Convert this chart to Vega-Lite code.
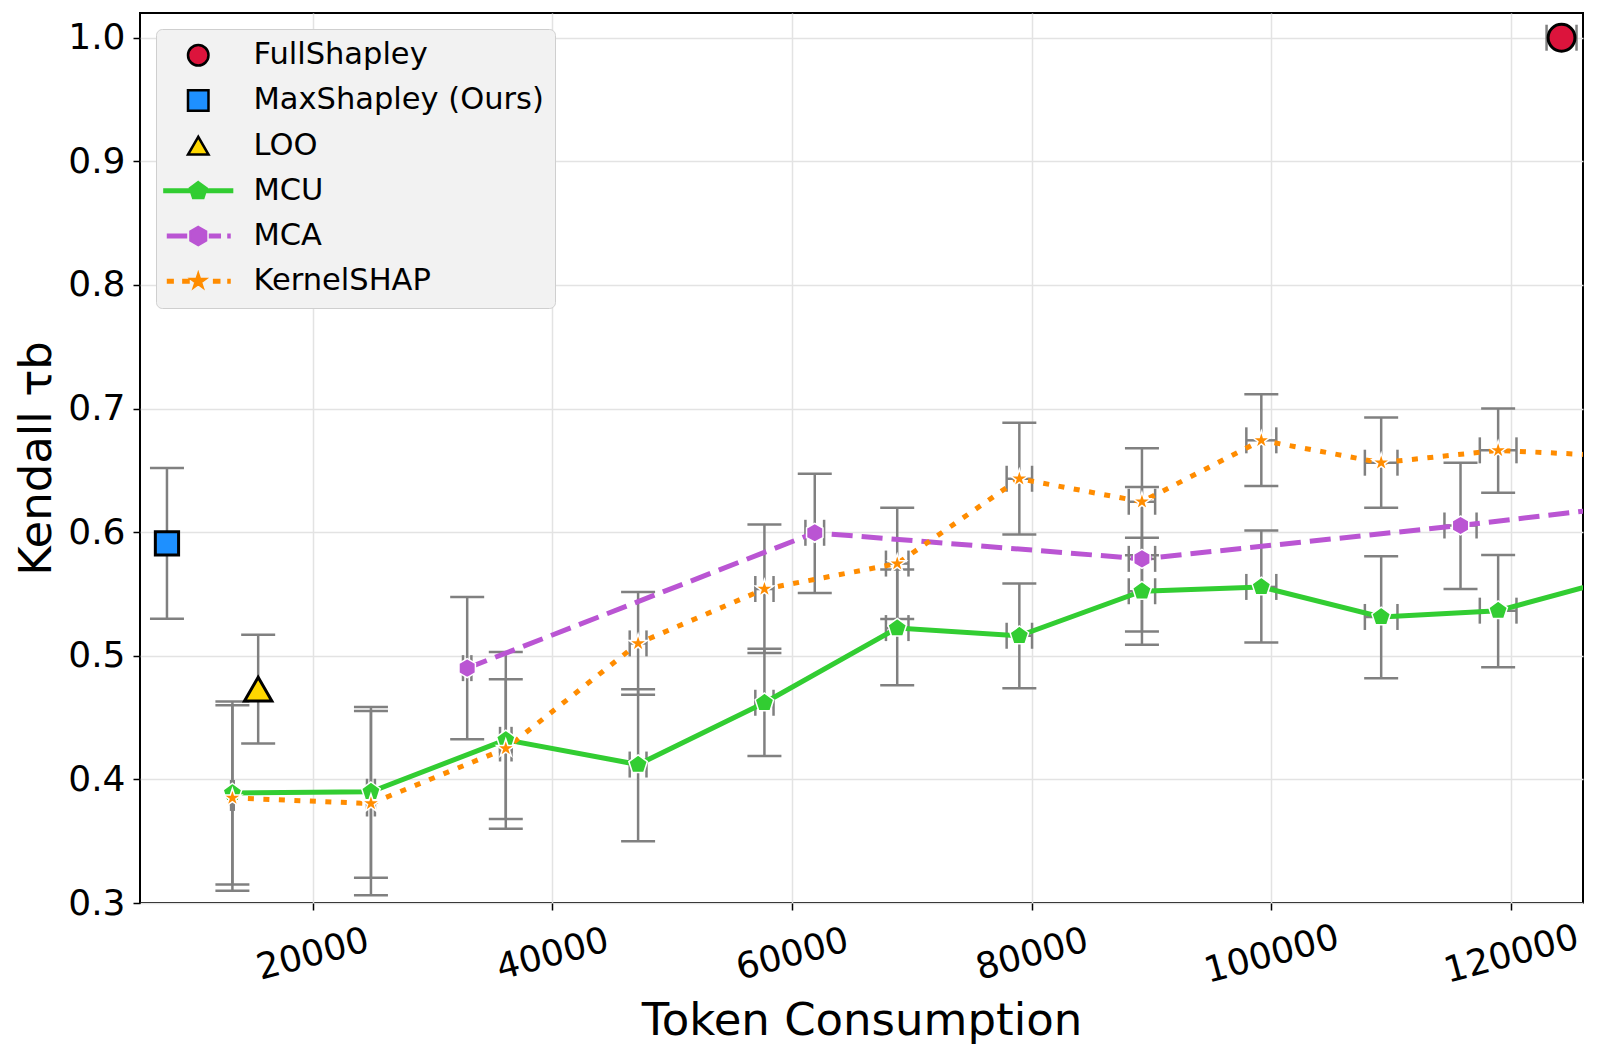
{
  "$schema": "https://vega.github.io/schema/vega-lite/v6.json",
  "width": 1443,
  "height": 890,
  "autosize": {"type": "none"},
  "padding": {"left": 140, "top": 13, "right": 17, "bottom": 154},
  "background": "white",
  "config": {
    "font": "DejaVu Sans",
    "view": {"stroke": "black", "strokeWidth": 2},
    "axis": {"labelColor": "black", "titleColor": "black", "titleFontWeight": "normal", "labelFont": "DejaVu Sans", "titleFont": "DejaVu Sans",
      "tickSize": 7, "tickWidth": 1.5, "tickColor": "black", "domain": false, "grid": true, "gridColor": "#e3e3e3", "gridWidth": 1.5,
      "labelFontSize": 36, "titleFontSize": 45},
    "axisX": {"labelAngle": -15, "labelAlign": "center", "labelBaseline": "middle", "labelPadding": 44, "labelFlush": false, "labelOverlap": false, "titlePadding": 9},
    "axisY": {"labelPadding": 8, "titlePadding": 8}
  },
  "data": {
    "values": [
      {"m": "FullShapley", "x": 124210, "y": 1.0, "ylo": null, "yhi": null, "xlo": 122960, "xhi": 125460},
      {"m": "MaxShapley (Ours)", "x": 7850, "y": 0.591, "ylo": 0.530, "yhi": 0.652, "xlo": null, "xhi": null},
      {"m": "LOO", "x": 15460, "y": 0.473, "ylo": 0.429, "yhi": 0.517, "xlo": null, "xhi": null},
      {"m": "MCU", "x": 13310, "y": 0.389, "ylo": 0.315, "yhi": 0.463, "xlo": 13200, "xhi": 13420},
      {"m": "MCU", "x": 24870, "y": 0.390, "ylo": 0.3205, "yhi": 0.4586, "xlo": 24540, "xhi": 25200},
      {"m": "MCU", "x": 36120, "y": 0.432, "ylo": 0.360, "yhi": 0.503, "xlo": 35640, "xhi": 36600},
      {"m": "MCU", "x": 47160, "y": 0.412, "ylo": 0.350, "yhi": 0.473, "xlo": 46460, "xhi": 47860},
      {"m": "MCU", "x": 57700, "y": 0.462, "ylo": 0.419, "yhi": 0.5057, "xlo": 56940, "xhi": 58460},
      {"m": "MCU", "x": 68780, "y": 0.5224, "ylo": 0.4762, "yhi": 0.5697, "xlo": 67840, "xhi": 69720},
      {"m": "MCU", "x": 78970, "y": 0.5162, "ylo": 0.4738, "yhi": 0.5584, "xlo": 77910, "xhi": 80030},
      {"m": "MCU", "x": 89200, "y": 0.5522, "ylo": 0.5089, "yhi": 0.5954, "xlo": 88100, "xhi": 90300},
      {"m": "MCU", "x": 99160, "y": 0.5557, "ylo": 0.5108, "yhi": 0.6014, "xlo": 97910, "xhi": 100410},
      {"m": "MCU", "x": 109160, "y": 0.5314, "ylo": 0.4819, "yhi": 0.5805, "xlo": 107800, "xhi": 110520},
      {"m": "MCU", "x": 118920, "y": 0.5365, "ylo": 0.4908, "yhi": 0.5816, "xlo": 117390, "xhi": 120450},
      {"m": "MCU", "x": 129000, "y": 0.563, "ylo": null, "yhi": null, "xlo": null, "xhi": null},
      {"m": "KernelSHAP", "x": 13310, "y": 0.385, "ylo": 0.310, "yhi": 0.460, "xlo": 13200, "xhi": 13420},
      {"m": "KernelSHAP", "x": 24870, "y": 0.3805, "ylo": 0.3062, "yhi": 0.4554, "xlo": 24540, "xhi": 25200},
      {"m": "KernelSHAP", "x": 36120, "y": 0.425, "ylo": 0.368, "yhi": 0.481, "xlo": 35640, "xhi": 36600},
      {"m": "KernelSHAP", "x": 47160, "y": 0.510, "ylo": 0.4684, "yhi": 0.5516, "xlo": 46460, "xhi": 47860},
      {"m": "KernelSHAP", "x": 57700, "y": 0.554, "ylo": 0.5022, "yhi": 0.6062, "xlo": 56940, "xhi": 58460},
      {"m": "KernelSHAP", "x": 68780, "y": 0.5746, "ylo": 0.5297, "yhi": 0.6197, "xlo": 67840, "xhi": 69720},
      {"m": "KernelSHAP", "x": 78970, "y": 0.6432, "ylo": 0.5981, "yhi": 0.6886, "xlo": 77910, "xhi": 80030},
      {"m": "KernelSHAP", "x": 89200, "y": 0.6246, "ylo": 0.5814, "yhi": 0.6678, "xlo": 88100, "xhi": 90300},
      {"m": "KernelSHAP", "x": 99160, "y": 0.6743, "ylo": 0.6373, "yhi": 0.7116, "xlo": 97910, "xhi": 100410},
      {"m": "KernelSHAP", "x": 109160, "y": 0.6562, "ylo": 0.6197, "yhi": 0.6927, "xlo": 107800, "xhi": 110520},
      {"m": "KernelSHAP", "x": 118920, "y": 0.6662, "ylo": 0.6319, "yhi": 0.7000, "xlo": 117390, "xhi": 120450},
      {"m": "KernelSHAP", "x": 129000, "y": 0.6615, "ylo": null, "yhi": null, "xlo": null, "xhi": null},
      {"m": "MCA", "x": 32900, "y": 0.490, "ylo": 0.4324, "yhi": 0.5476, "xlo": 32550, "xhi": 33250},
      {"m": "MCA", "x": 61900, "y": 0.5995, "ylo": 0.5508, "yhi": 0.6473, "xlo": 61120, "xhi": 62680},
      {"m": "MCA", "x": 89200, "y": 0.5784, "ylo": 0.5197, "yhi": 0.6365, "xlo": 88100, "xhi": 90300},
      {"m": "MCA", "x": 115780, "y": 0.6054, "ylo": 0.5541, "yhi": 0.6562, "xlo": 114440, "xhi": 117120},
      {"m": "MCA", "x": 130000, "y": 0.6215, "ylo": null, "yhi": null, "xlo": null, "xhi": null}
    ]
  },
  "layer": [
    {
      "mark": {"type": "rule", "color": "#808080", "strokeWidth": 2.5, "clip": true},
      "encoding": {
        "x": {"field": "x", "type": "quantitative", "title": "Token Consumption", "scale": {"domain": [5600, 126000], "nice": false, "zero": false},
          "axis": {"values": [20000, 40000, 60000, 80000, 100000, 120000], "format": "d"}},
        "y": {"field": "ylo", "type": "quantitative", "title": "Kendall  τb", "scale": {"domain": [0.3, 1.02], "nice": false, "zero": false},
          "axis": {"values": [0.3, 0.4, 0.5, 0.6, 0.7, 0.8, 0.9, 1.0], "format": ".1f"}},
        "y2": {"field": "yhi", "title": "Kendall  τb"}
      }
    },
    {
      "mark": {"type": "tick", "orient": "horizontal", "color": "#808080", "size": 34, "thickness": 2.5, "clip": true, "opacity": 1},
      "encoding": {
        "x": {"field": "x", "type": "quantitative", "title": "Token Consumption", "scale": {"domain": [5600, 126000], "nice": false, "zero": false}},
        "y": {"field": "ylo", "type": "quantitative", "title": "Kendall  τb", "scale": {"domain": [0.3, 1.02], "nice": false, "zero": false}}
      }
    },
    {
      "mark": {"type": "tick", "orient": "horizontal", "color": "#808080", "size": 34, "thickness": 2.5, "clip": true, "opacity": 1},
      "encoding": {
        "x": {"field": "x", "type": "quantitative", "title": "Token Consumption", "scale": {"domain": [5600, 126000], "nice": false, "zero": false}},
        "y": {"field": "yhi", "type": "quantitative", "title": "Kendall  τb", "scale": {"domain": [0.3, 1.02], "nice": false, "zero": false}}
      }
    },
    {
      "mark": {"type": "rule", "color": "#808080", "strokeWidth": 2.5, "clip": true},
      "encoding": {
        "x": {"field": "xlo", "type": "quantitative", "title": "Token Consumption", "scale": {"domain": [5600, 126000], "nice": false, "zero": false}},
        "x2": {"field": "xhi", "title": "Token Consumption"},
        "y": {"field": "y", "type": "quantitative", "title": "Kendall  τb", "scale": {"domain": [0.3, 1.02], "nice": false, "zero": false}}
      }
    },
    {
      "mark": {"type": "tick", "orient": "vertical", "color": "#808080", "size": 26, "thickness": 2.5, "clip": true, "opacity": 1},
      "encoding": {
        "x": {"field": "xlo", "type": "quantitative", "title": "Token Consumption", "scale": {"domain": [5600, 126000], "nice": false, "zero": false}},
        "y": {"field": "y", "type": "quantitative", "title": "Kendall  τb", "scale": {"domain": [0.3, 1.02], "nice": false, "zero": false}}
      }
    },
    {
      "mark": {"type": "tick", "orient": "vertical", "color": "#808080", "size": 26, "thickness": 2.5, "clip": true, "opacity": 1},
      "encoding": {
        "x": {"field": "xhi", "type": "quantitative", "title": "Token Consumption", "scale": {"domain": [5600, 126000], "nice": false, "zero": false}},
        "y": {"field": "y", "type": "quantitative", "title": "Kendall  τb", "scale": {"domain": [0.3, 1.02], "nice": false, "zero": false}}
      }
    },
    {
      "transform": [{"filter": "datum.m === 'MCU'"}],
      "mark": {"type": "line", "stroke": "#32CD32", "strokeWidth": 5, "clip": true},
      "encoding": {
        "x": {"field": "x", "type": "quantitative", "title": "Token Consumption", "scale": {"domain": [5600, 126000], "nice": false, "zero": false}},
        "y": {"field": "y", "type": "quantitative", "title": "Kendall  τb", "scale": {"domain": [0.3, 1.02], "nice": false, "zero": false}}
      }
    },
    {
      "transform": [{"filter": "datum.m === 'MCA'"}],
      "mark": {"type": "line", "stroke": "#BA55D3", "strokeWidth": 5, "strokeDash": [21, 9], "clip": true},
      "encoding": {
        "x": {"field": "x", "type": "quantitative", "title": "Token Consumption", "scale": {"domain": [5600, 126000], "nice": false, "zero": false}},
        "y": {"field": "y", "type": "quantitative", "title": "Kendall  τb", "scale": {"domain": [0.3, 1.02], "nice": false, "zero": false}}
      }
    },
    {
      "transform": [{"filter": "datum.m === 'KernelSHAP'"}],
      "mark": {"type": "line", "stroke": "#FF8C00", "strokeWidth": 5, "strokeDash": [6, 9.5], "clip": true},
      "encoding": {
        "x": {"field": "x", "type": "quantitative", "title": "Token Consumption", "scale": {"domain": [5600, 126000], "nice": false, "zero": false}},
        "y": {"field": "y", "type": "quantitative", "title": "Kendall  τb", "scale": {"domain": [0.3, 1.02], "nice": false, "zero": false}}
      }
    },
    {
      "mark": {"type": "point", "filled": true, "opacity": 1, "clip": true},
      "encoding": {
        "x": {"field": "x", "type": "quantitative", "title": "Token Consumption", "scale": {"domain": [5600, 126000], "nice": false, "zero": false}},
        "y": {"field": "y", "type": "quantitative", "title": "Kendall  τb", "scale": {"domain": [0.3, 1.02], "nice": false, "zero": false}},
        "fill": {"condition": [
            {"test": "datum.m === 'FullShapley'", "value": "#DC143C"},
            {"test": "datum.m === 'MaxShapley (Ours)'", "value": "#1E90FF"},
            {"test": "datum.m === 'LOO'", "value": "#FFD700"},
            {"test": "datum.m === 'MCU'", "value": "#32CD32"},
            {"test": "datum.m === 'MCA'", "value": "#BA55D3"}
          ], "value": "#FF8C00"},
        "shape": {"condition": [
            {"test": "datum.m === 'FullShapley'", "value": "circle"},
            {"test": "datum.m === 'MaxShapley (Ours)'", "value": "square"},
            {"test": "datum.m === 'LOO'", "value": "triangle-up"},
            {"test": "datum.m === 'MCU'", "value": "M0,-1L0.9511,-0.309L0.5878,0.809L-0.5878,0.809L-0.9511,-0.309Z"},
            {"test": "datum.m === 'MCA'", "value": "M0,-1L0.866,-0.5L0.866,0.5L0,1L-0.866,0.5L-0.866,-0.5Z"}
          ], "value": "M0,-1L0.2245,-0.309L0.9511,-0.309L0.3633,0.118L0.5878,0.809L0,0.382L-0.5878,0.809L-0.3633,0.118L-0.9511,-0.309L-0.2245,-0.309Z"},
        "stroke": {"condition": {"test": "indexof(['MCU','MCA','KernelSHAP'], datum.m) >= 0", "value": "white"}, "value": "black"},
        "strokeWidth": {"condition": {"test": "indexof(['MCU','MCA','KernelSHAP'], datum.m) >= 0", "value": 1.5}, "value": 3},
        "size": {"condition": [
            {"test": "datum.m === 'FullShapley'", "value": 720},
            {"test": "datum.m === 'MaxShapley (Ours)'", "value": 540},
            {"test": "datum.m === 'LOO'", "value": 750},
            {"test": "datum.m === 'MCU'", "value": 380},
            {"test": "datum.m === 'MCA'", "value": 360}
          ], "value": 360}
      }
    },
    {
      "transform": [{"filter": "false"}],
      "mark": {"type": "point", "filled": true, "opacity": 1, "strokeWidth": 2.5},
      "encoding": {
        "x": {"field": "x", "type": "quantitative", "title": "Token Consumption", "scale": {"domain": [5600, 126000], "nice": false, "zero": false}},
        "y": {"field": "y", "type": "quantitative", "title": "Kendall  τb", "scale": {"domain": [0.3, 1.02], "nice": false, "zero": false}},
        "fill": {"field": "m", "type": "nominal",
          "scale": {"domain": ["FullShapley", "MaxShapley (Ours)", "LOO", "MCU", "MCA", "KernelSHAP"],
            "range": ["#DC143C", "#1E90FF", "#FFD700", "#32CD32", "#BA55D3", "#FF8C00"]},
          "legend": {
            "title": null, "orient": "none", "legendX": 16, "legendY": 16,
            "labelFontSize": 30.5, "labelFont": "DejaVu Sans", "labelColor": "black", "labelLimit": 600,
            "symbolSize": 420, "symbolStrokeWidth": 2.5, "symbolOpacity": 1,
            "symbolOffset": 16, "labelOffset": 40, "rowPadding": 14.2, "padding": 11,
            "fillColor": "#f2f2f2", "strokeColor": "#cfcfcf", "cornerRadius": 6
          }},
        "shape": {"field": "m", "type": "nominal",
          "scale": {"domain": ["FullShapley", "MaxShapley (Ours)", "LOO", "MCU", "MCA", "KernelSHAP"],
            "range": ["circle", "square", "triangle-up",
              "M-3.3,-0.12H3.3V0.12H-3.3ZM0,-0.85L0.8084,-0.2627L0.4996,0.6877L-0.4996,0.6877L-0.8084,-0.2627Z",
              "M-2.95,-0.12H-1.2V0.12H-2.95ZM1.15,-0.12H2.1V0.12H1.15ZM2.95,-0.12H3.05V0.12H2.95ZM0,-0.88L0.762,-0.44L0.762,0.44L0,0.88L-0.762,0.44L-0.762,-0.44Z",
              "M-2.95,-0.12H-2.5V0.12H-2.95ZM-1.45,-0.12H-0.95V0.12H-1.45ZM1.55,-0.12H2.05V0.12H1.55ZM2.95,-0.12H3.05V0.12H2.95ZM0,-0.72L0.1616,-0.2225L0.6848,-0.2225L0.2615,0.085L0.4232,0.5825L0,0.275L-0.4232,0.5825L-0.2615,0.085L-0.6848,-0.2225L-0.1616,-0.2225Z"]}},
        "stroke": {"field": "m", "type": "nominal",
          "scale": {"domain": ["FullShapley", "MaxShapley (Ours)", "LOO", "MCU", "MCA", "KernelSHAP"],
            "range": ["black", "black", "black", "#32CD32", "#BA55D3", "#FF8C00"]}}
      }
    }
  ]
}
